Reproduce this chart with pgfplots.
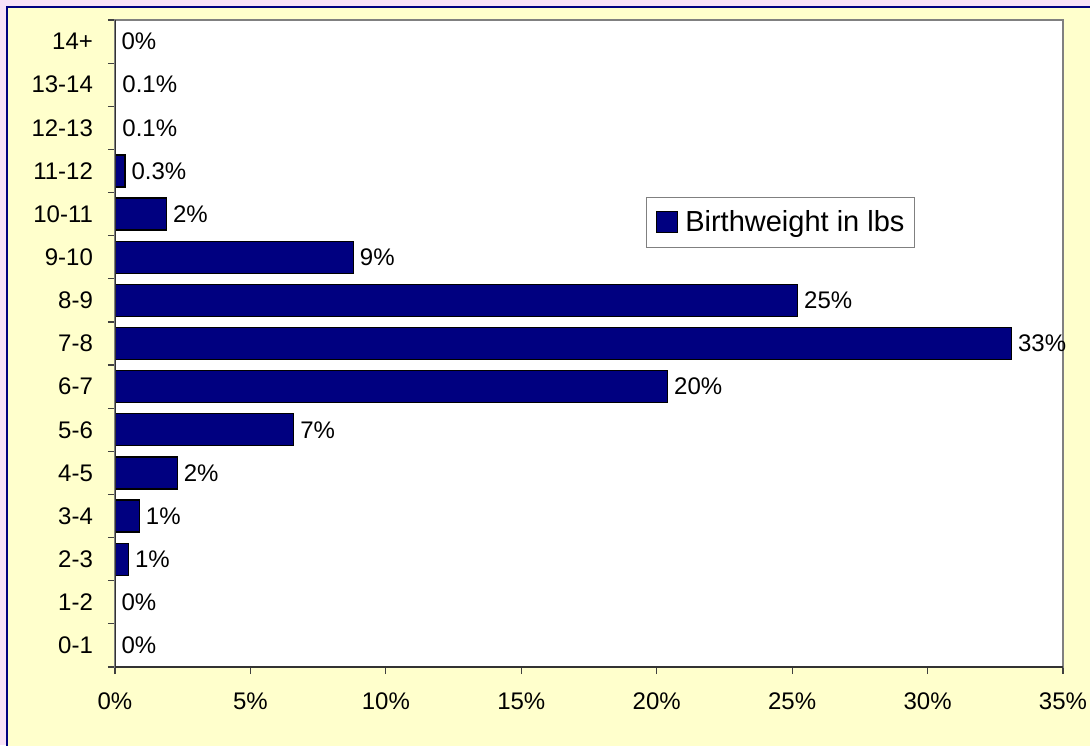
\documentclass[border=0pt]{standalone}
\usepackage{fontspec}
\setmainfont{Liberation Sans}
\usepackage{pgfplots}
\pgfplotsset{compat=1.18}
\definecolor{barnavy}{HTML}{000080}
\definecolor{chartbg}{HTML}{FFFFCC}
\definecolor{outerbg}{HTML}{F8E2F8}
\definecolor{framegray}{HTML}{808080}
\begin{document}
\begin{tikzpicture}[x=0.5pt,y=0.5pt]
\useasboundingbox (0,0) rectangle (1090,745);
\fill[outerbg] (0,0) rectangle (1090,745);
\filldraw[fill=chartbg, draw=barnavy, line width=1pt] (7,-20) rectangle (1110,738);
\begin{axis}[
    at={(57.5pt,39pt)}, anchor=south west,
    scale only axis,
    width=474pt, height=323.5pt,
    xbar, bar width=16pt,
    xmin=0, xmax=35,
    ymin=-0.5, ymax=14.5,
    axis background/.style={fill=white},
    axis line style={draw=framegray, line width=0.6pt},
    xtick={0,5,...,35},
    xticklabel={\pgfmathprintnumber{\tick}\%},
    ytick={0,...,14},
    yticklabels={0-1,1-2,2-3,3-4,4-5,5-6,6-7,7-8,8-9,9-10,10-11,11-12,12-13,13-14,14+},
    minor ytick={-0.5,0.5,...,14.5},
    tick align=outside,
    xtick pos=bottom, ytick pos=left,
    major tick length=3.5pt, minor tick length=3.5pt,
    major y tick style={draw=none},
    minor y tick style={draw=black!75, line width=0.6pt},
    major x tick style={draw=black!75, line width=0.6pt},
    tick label style={font=\fontsize{12}{14}\selectfont},
    /pgf/number format/assume math mode=true,
    xticklabel style={anchor=base, yshift=-17.5pt},
    yticklabel style={anchor=east, xshift=-4pt},
    point meta=explicit symbolic,
    nodes near coords,
    nodes near coords style={anchor=west, font=\fontsize{12}{14}\selectfont, inner sep=3pt},
    legend style={at={(0.560,0.648)}, anchor=south west, draw=framegray, fill=white,
        font=\fontsize{14.5}{17}\selectfont, inner xsep=3pt, inner ysep=4.5pt},
    legend image code/.code={%
        \draw[#1, draw=black, line width=0.5pt] (2pt,-5.2pt) rectangle (12.5pt,5.2pt);
        \path[draw=none, fill=none] (0pt,0pt) rectangle (14.5pt,0.1pt);},
]
\addplot[fill=barnavy, draw=black, line width=0.6pt] coordinates {
    (0.0,0) [0\%]
    (0.0,1) [0\%]
    (0.5,2) [1\%]
    (0.9,3) [1\%]
    (2.3,4) [2\%]
    (6.6,5) [7\%]
    (20.4,6) [20\%]
    (33.1,7) [33\%]
    (25.2,8) [25\%]
    (8.8,9) [9\%]
    (1.9,10) [2\%]
    (0.37,11) [0.3\%]
    (0.03,12) [0.1\%]
    (0.03,13) [0.1\%]
    (0.0,14) [0\%]
};
\addlegendentry{Birthweight in lbs}
\draw[black!80, line width=0.7pt] (rel axis cs:0,1) -- (rel axis cs:0,0) -- (rel axis cs:1,0);
\end{axis}
\end{tikzpicture}
\end{document}
